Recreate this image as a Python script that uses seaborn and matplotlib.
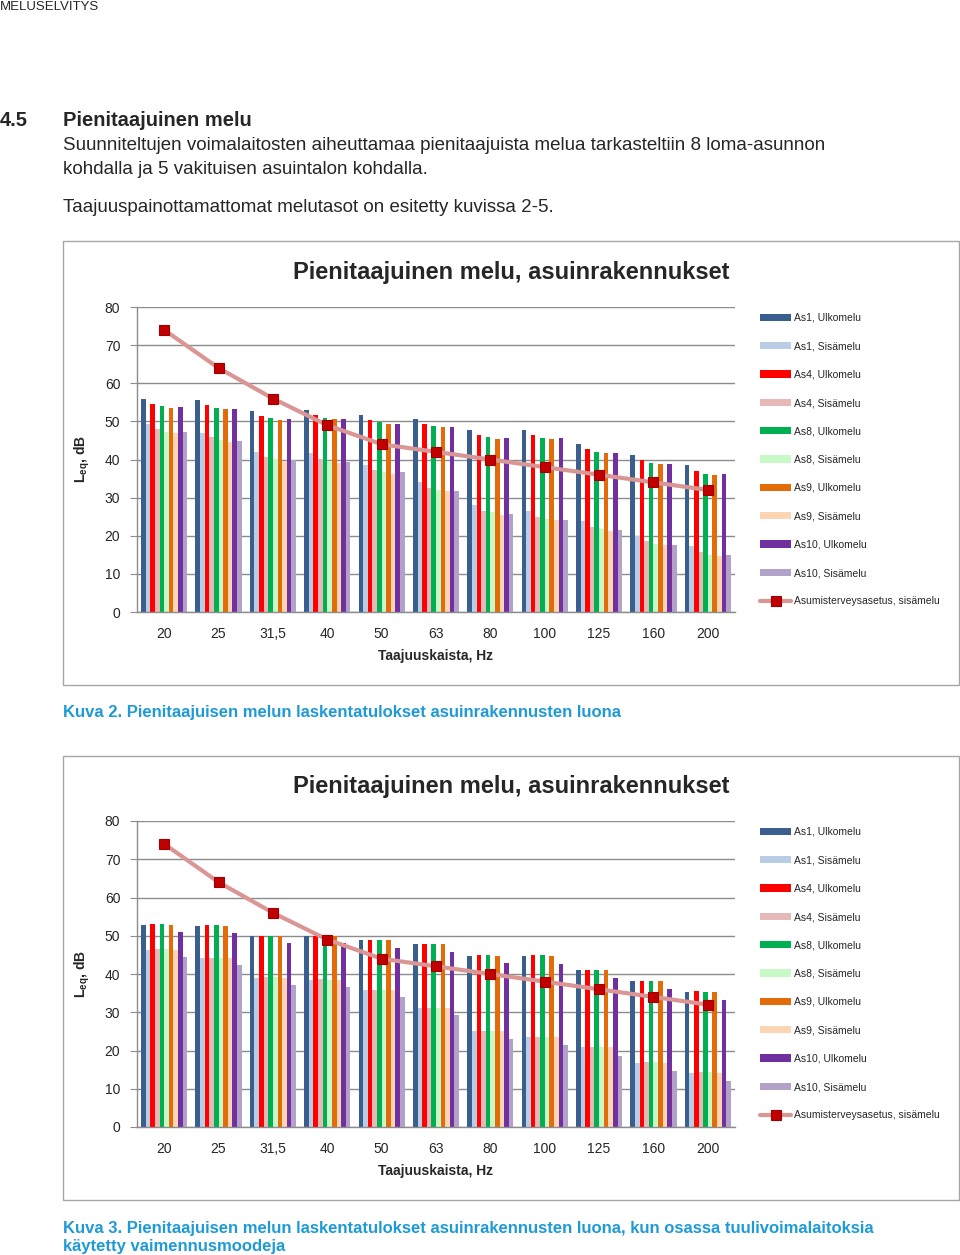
import pandas as pd
import seaborn as sns
import matplotlib.pyplot as plt
from matplotlib.patches import Rectangle, Patch
from matplotlib.lines import Line2D

freqs = ["20", "25", "31,5", "40", "50", "63", "80", "100", "125", "160", "200"]
series = ["As1, Ulkomelu", "As1, Sisämelu", "As4, Ulkomelu", "As4, Sisämelu",
          "As8, Ulkomelu", "As8, Sisämelu", "As9, Ulkomelu", "As9, Sisämelu",
          "As10, Ulkomelu", "As10, Sisämelu"]
limit_label = "Asumisterveysasetus, sisämelu"
limit = [74, 64, 56, 49, 44, 42, 40, 38, 36, 34, 32]

# Kuva 2
k2_as1_ulko = [55.8, 55.5, 52.8, 53.0, 51.8, 50.7, 47.7, 47.7, 44.0, 41.1, 38.6]
k2_as1_sisa = [49.2, 46.9, 41.9, 41.6, 38.6, 34.0, 28.1, 26.5, 23.9, 19.9, 17.3]
k2_as4_ulko = [54.6, 54.2, 51.5, 51.6, 50.4, 49.3, 46.5, 46.5, 42.8, 39.8, 37.1]
k2_as4_sisa = [47.9, 45.8, 40.6, 40.1, 37.3, 32.6, 26.6, 25.0, 22.4, 18.5, 15.8]
k2_as8_ulko = [54.0, 53.5, 50.8, 51.0, 49.8, 48.8, 45.8, 45.7, 42.0, 39.0, 36.3]
k2_as8_sisa = [47.2, 45.1, 40.1, 39.7, 36.8, 32.0, 26.1, 24.5, 21.9, 17.8, 15.0]
k2_as9_ulko = [53.5, 53.2, 50.4, 50.7, 49.3, 48.4, 45.3, 45.3, 41.6, 38.7, 36.0]
k2_as9_sisa = [46.9, 44.5, 39.5, 39.2, 36.1, 31.8, 25.5, 24.1, 21.3, 17.5, 14.7]
k2_as10_ulko = [53.7, 53.3, 50.7, 50.7, 49.4, 48.6, 45.6, 45.6, 41.7, 38.8, 36.2]
k2_as10_sisa = [47.1, 44.9, 39.9, 39.4, 36.6, 31.8, 25.7, 24.2, 21.6, 17.6, 15.0]

# Kuva 3 (vaimennusmoodit)
k3_as1_ulko = [52.8, 52.6, 50.0, 50.0, 48.8, 47.8, 44.8, 44.8, 41.0, 38.1, 35.4]
k3_as1_sisa = [46.2, 44.1, 38.9, 38.5, 35.7, 31.1, 25.0, 23.4, 20.8, 16.7, 14.1]
k3_as4_ulko = [53.1, 52.8, 50.0, 50.0, 49.0, 47.9, 44.9, 44.9, 41.1, 38.2, 35.5]
k3_as4_sisa = [46.5, 44.3, 39.1, 38.7, 35.9, 31.1, 25.2, 23.5, 20.9, 17.0, 14.3]
k3_as8_ulko = [53.1, 52.8, 50.0, 49.8, 48.9, 47.9, 44.9, 44.9, 41.1, 38.1, 35.4]
k3_as8_sisa = [46.5, 44.3, 39.1, 38.5, 35.7, 31.1, 25.2, 23.5, 20.9, 17.0, 14.3]
k3_as9_ulko = [52.9, 52.6, 50.0, 50.0, 48.8, 47.8, 44.8, 44.8, 41.0, 38.1, 35.4]
k3_as9_sisa = [46.2, 44.1, 38.9, 38.5, 35.7, 31.1, 25.0, 23.4, 20.8, 16.7, 14.1]
k3_as10_ulko = [51.1, 50.7, 48.0, 48.1, 46.9, 45.8, 42.8, 42.7, 39.0, 36.0, 33.2]
k3_as10_sisa = [44.4, 42.3, 37.1, 36.7, 33.9, 29.2, 23.1, 21.4, 18.6, 14.7, 12.0]

colors = ["#3A5F8F", "#B9CDE5", "#FF0000", "#E6B9B8", "#00B050",
          "#C8F8C8", "#E36C09", "#FCD5B4", "#7030A0", "#B3A2C7"]
line_color = "#D99694"
marker_color = "#C00000"
grid_color = "#8C8C8C"
caption_color = "#1E9AD6"

sns.set_style("white")
plt.rcParams["font.family"] = ["Liberation Sans", "DejaVu Sans"]
plt.rcParams["mathtext.fontset"] = "custom"
plt.rcParams["mathtext.rm"] = "Liberation Sans"
plt.rcParams["mathtext.bf"] = "Liberation Sans:bold"

W, H = 960, 1255


def fx(px):
    return px / W


def fy(py):
    return 1 - py / H


def long_table(cols):
    rows = []
    for name, vals in zip(series, cols):
        for f, v in zip(freqs, vals):
            rows.append((f, name, v))
    return pd.DataFrame(rows, columns=["freq", "series", "value"])


def chart(fig, box_top, box_bottom, plot_top, plot_bottom, cols):
    fig.add_artist(Rectangle((fx(63), fy(box_bottom)), fx(959) - fx(63),
                             fy(box_top) - fy(box_bottom), transform=fig.transFigure,
                             fill=False, edgecolor="#A6A6A6", lw=1))
    fig.text(fx(511), fy(box_top + 31), "Pienitaajuinen melu, asuinrakennukset",
             ha="center", va="center", fontsize=17, fontweight="bold")

    ax = fig.add_axes([fx(137), fy(plot_bottom), fx(735) - fx(137),
                       fy(plot_top) - fy(plot_bottom)])
    data = long_table(cols)
    sns.barplot(data=data, x="freq", y="value", hue="series", order=freqs,
                hue_order=series, palette=dict(zip(series, colors)), width=0.85,
                gap=0, saturation=1, linewidth=0, legend=False, ax=ax)
    sns.pointplot(x=freqs, y=limit, order=freqs, color=line_color, markers="s",
                  markersize=7, markerfacecolor=marker_color,
                  markeredgecolor="#A00000", markeredgewidth=0.8, linewidth=3,
                  errorbar=None, ax=ax)

    ax.set_xlim(-0.5, 10.5)
    ax.set_ylim(0, 80)
    ax.set_yticks(range(0, 81, 10))
    ax.yaxis.grid(True, color=grid_color, lw=1)
    ax.xaxis.grid(False)
    ax.set_axisbelow(True)
    for s in ["top", "right"]:
        ax.spines[s].set_visible(False)
    for s in ["left", "bottom"]:
        ax.spines[s].set_color(grid_color)
        ax.spines[s].set_linewidth(1)
    ax.tick_params(axis="y", left=True, length=5, color=grid_color, pad=7, labelsize=10)
    ax.tick_params(axis="x", bottom=False, length=0, pad=11, labelsize=10)

    ax.set_xlabel("Taajuuskaista, Hz", fontweight="bold", fontsize=10)
    ax.xaxis.set_label_coords(0.5, -(649 - 612) / 305)
    ax.set_ylabel(r"$\mathbf{L_{eq}}$, dB", fontweight="bold", fontsize=10)
    ax.yaxis.set_label_coords(-(137 - 92) / 598, 0.5)

    handles = [Patch(facecolor=c, edgecolor="none") for c in colors]
    handles.append(Line2D([], [], color=line_color, lw=3, marker="s", ms=7,
                          mfc=marker_color, mec="#A00000", mew=0.8))
    ax.legend(handles, series + [limit_label], loc="upper left",
              bbox_to_anchor=(fx(760), fy(plot_top + 6)), bbox_transform=fig.transFigure,
              frameon=False, fontsize=7.5, labelspacing=1.76, handlelength=3.0,
              handletextpad=0.3, borderpad=0, borderaxespad=0)
    return ax


fig = plt.figure(figsize=(W / 100, H / 100), dpi=100)

fig.text(fx(0), fy(1), "MELUSELVITYS", fontsize=9.5, va="top")
fig.text(fx(0), fy(120), "4.5", fontsize=14.5, fontweight="bold", va="center")
fig.text(fx(63), fy(120), "Pienitaajuinen melu", fontsize=14.5, fontweight="bold", va="center")
fig.text(fx(63), fy(146), "Suunniteltujen voimalaitosten aiheuttamaa pienitaajuista melua "
         "tarkasteltiin 8 loma-asunnon", fontsize=13.5, va="center")
fig.text(fx(63), fy(170), "kohdalla ja 5 vakituisen asuintalon kohdalla.", fontsize=13.5, va="center")
fig.text(fx(63), fy(207), "Taajuuspainottamattomat melutasot on esitetty kuvissa 2-5.",
         fontsize=13.5, va="center")

chart(fig, 241, 685, 307, 612,
      [k2_as1_ulko, k2_as1_sisa, k2_as4_ulko, k2_as4_sisa, k2_as8_ulko,
       k2_as8_sisa, k2_as9_ulko, k2_as9_sisa, k2_as10_ulko, k2_as10_sisa])
fig.text(fx(63), fy(713), "Kuva 2. Pienitaajuisen melun laskentatulokset asuinrakennusten luona",
         fontsize=12, fontweight="bold", color=caption_color, va="center")

chart(fig, 756, 1200, 821, 1127,
      [k3_as1_ulko, k3_as1_sisa, k3_as4_ulko, k3_as4_sisa, k3_as8_ulko,
       k3_as8_sisa, k3_as9_ulko, k3_as9_sisa, k3_as10_ulko, k3_as10_sisa])
fig.text(fx(63), fy(1228), "Kuva 3. Pienitaajuisen melun laskentatulokset asuinrakennusten luona, "
         "kun osassa tuulivoimalaitoksia", fontsize=12, fontweight="bold",
         color=caption_color, va="center")
fig.text(fx(63), fy(1246), "käytetty vaimennusmoodeja", fontsize=12, fontweight="bold",
         color=caption_color, va="center")

fig.savefig("out.png", dpi=100)
